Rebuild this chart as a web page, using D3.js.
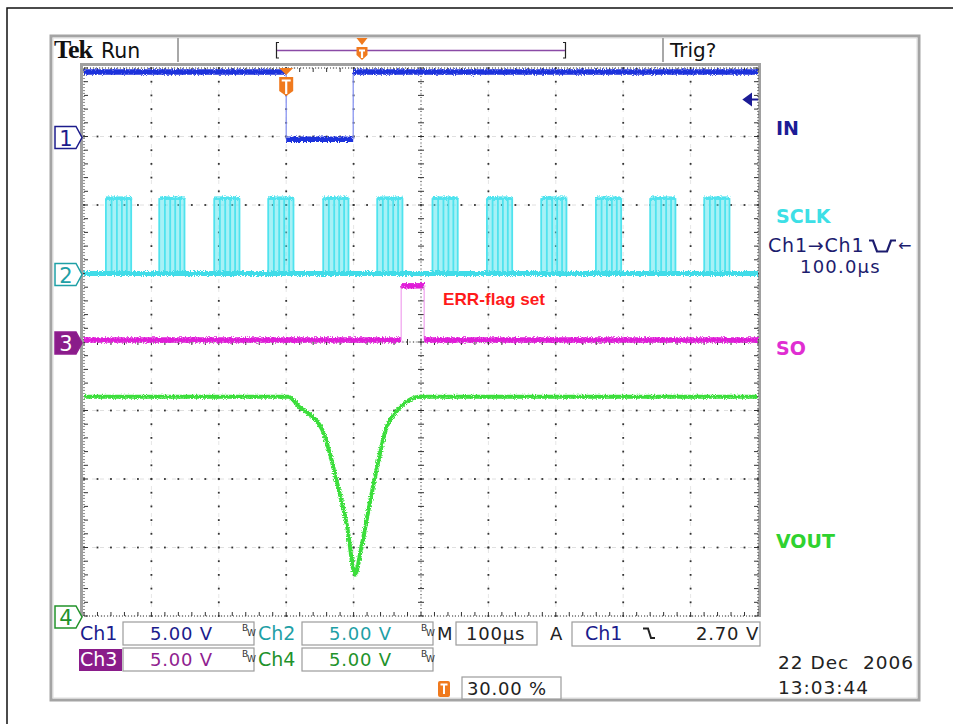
<!DOCTYPE html>
<html>
<head>
<meta charset="utf-8">
<script src="https://d3js.org/d3.v7.min.js"></script>
<style>
  body { margin: 0; background: #fff; }
  text { font-family: "DejaVu Sans", sans-serif; }
</style>
</head>
<body>
<svg id="scope" width="953" height="724"></svg>
<script>
// time axis in µs, relative to the trigger point
const timeDomain = [-300, 700];
const voltsPerDiv = 5;

// channels: ground position (divisions from centre), colours
const channelNames   = ["IN", "SCLK", "SO", "VOUT"];
const channelOffsets = [3, 1, 0, -4];
const channelColors  = ["#1f30dc", "#4fe3ee", "#e01fd8", "#3ade3a"];
const edgeColors     = ["#7f8cf0", "#4fe3ee", "#f0a0ee", "#3ade3a"];
const labelColors    = ["#1c1c96", "#3ddfe6", "#e02ed2", "#2fd22f"];
const labelDivs      = [3.02, 1.74, -0.19, -3.0];

// IN (Ch1)
const inTimes = [-300, 0, 0, 99.4, 99.4, 700];
const inVolts = [4.7, 4.7, -0.2, -0.2, 4.7, 4.7];

// SCLK (Ch2) bursts
const sclkBurstStarts = [-267.5, -188.4, -106.8, -26.7, 54.9, 135, 217, 297.8, 378.3, 459.5, 540, 620.2];
const sclkEdgeOffsets = [0, 8.4, 16.3, 23.7, 31, 37.5];
const sclkHigh = 5.5;
const sclkLow = 0;

// SO (Ch3)
const soTimes = [-300, 170.6, 170.6, 204.7, 204.7, 700];
const soVolts = [0.15, 0.15, 4.1, 4.1, 0.15, 0.15];

// VOUT (Ch4)
const voutTimes = [-300, 3, 20.8, 35.6, 46, 53.4, 75.7, 90.5, 102.4, 109.8, 129.1, 149.9, 164.7, 188.4, 198.8, 700];
const voutVolts = [16.0, 16.0, 15.2, 14.7, 14.2, 13.6, 9.7, 6.5, 3.0, 4.6, 9.5, 13.9, 15.0, 15.9, 16.0, 16.0];

// readouts
const readoutLabels = ["Ch1", "Ch2", "Ch3", "Ch4"];
const readoutScales = ["5.00 V", "5.00 V", "5.00 V", "5.00 V"];
const readoutColors = ["#1c1c8c", "#1fa0a6", "#901e90", "#22922a"];
const timebaseText = "100µs";
const triggerSource = "Ch1";
const triggerLevel = "2.70 V";
const triggerPosition = "30.00 %";
const dateText = "22 Dec  2006";
const clockText = "13:03:44";
const annotation = "ERR-flag set";

const svg = d3.select("#scope");

const x = d3.scaleLinear().domain(timeDomain).range([84, 758]);
const yDiv = d3.scaleLinear().domain([-4, 4]).range([616, 68]);
const yCh = (ch, v) => yDiv(channelOffsets[ch] + v / voltsPerDiv);

const defs = svg.append("defs");
const f = defs.append("filter").attr("id", "noise")
  .attr("filterUnits", "userSpaceOnUse")
  .attr("x", 0).attr("y", 0).attr("width", 953).attr("height", 724);
f.append("feTurbulence").attr("type", "fractalNoise")
  .attr("baseFrequency", "0.9 0.8").attr("numOctaves", 1).attr("seed", 4).attr("result", "t");
f.append("feDisplacementMap").attr("in", "SourceGraphic").attr("in2", "t")
  .attr("scale", 5).attr("xChannelSelector", "R").attr("yChannelSelector", "G");

// outer page frame
svg.append("path").attr("d", "M7,724 V8 H953").attr("fill", "none").attr("stroke", "#111").attr("stroke-width", 1.5);

// instrument bezel
svg.append("rect").attr("x", 51).attr("y", 36).attr("width", 868).attr("height", 664)
  .attr("fill", "none").attr("stroke", "#a4a4a4").attr("stroke-width", 3);
svg.append("rect").attr("x", 53).attr("y", 38).attr("width", 864).attr("height", 660)
  .attr("fill", "none").attr("stroke", "#dcdcdc").attr("stroke-width", 1);
[178, 663].forEach(sx => svg.append("line").attr("x1", sx).attr("x2", sx).attr("y1", 38).attr("y2", 62)
  .attr("stroke", "#a8a8a8").attr("stroke-width", 2));
// plot border (grey)
svg.append("path").attr("d", "M81.5,617 V64.5 H759.5 V617").attr("fill", "none")
  .attr("stroke", "#a0a0a0").attr("stroke-width", 3);

// header
svg.append("text").attr("x", 54).attr("y", 58).text("Tek")
  .style("font-family", "'Liberation Serif', serif").style("font-weight", "bold").style("font-size", "26px")
  .style("letter-spacing", "-1px").attr("fill", "#111");
svg.append("text").attr("x", 101).attr("y", 58).text("Run").style("font-size", "20.5px").attr("fill", "#111");
svg.append("text").attr("x", 670).attr("y", 57).text("Trig?").style("font-size", "20px").attr("fill", "#111");

// record position bar
svg.append("path").attr("d", "M279,42.5 H276.5 V58 H279").attr("fill", "none").attr("stroke", "#222").attr("stroke-width", 1.2);
svg.append("path").attr("d", "M563,42.5 H565.5 V58 H563").attr("fill", "none").attr("stroke", "#222").attr("stroke-width", 1.2);
svg.append("line").attr("x1", 277).attr("x2", 565).attr("y1", 50.5).attr("y2", 50.5).attr("stroke", "#8a4aa6").attr("stroke-width", 1.5);

function triggerFlag(g, cx, top, h, w) {
  g.append("path").attr("d", `M${cx - w},${top} H${cx + w} L${cx},${top + 7} Z`).attr("fill", "#f07a1e");
  g.append("path").attr("d", `M${cx - w},${top + 9} H${cx + w} V${top + 9 + h - 5} L${cx},${top + 9 + h} L${cx - w},${top + 9 + h - 5} Z`)
    .attr("fill", "#f07a1e");
  g.append("path").attr("d", `M${cx - w + 2.5},${top + 12.5} H${cx + w - 2.5} M${cx},${top + 12.5} V${top + 7 + h}`)
    .attr("stroke", "#fff").attr("stroke-width", 2.2);
}
triggerFlag(svg.append("g"), 362, 38, 13, 5.5);

// grid
const grid = svg.append("g");
const majorX = x.ticks(10);
const majorY = yDiv.ticks(8);
const minorX = d3.range(timeDomain[0], timeDomain[1] + 0.01, 20);
const minorY = d3.range(-4, 4.01, 0.2);
const centreT = 200;

majorY.forEach(d => grid.append("line").attr("x1", x(timeDomain[0])).attr("x2", x(timeDomain[1]))
  .attr("y1", yDiv(d)).attr("y2", yDiv(d)).attr("stroke", "#e0e0e0").attr("stroke-dasharray", "4,4"));
majorX.forEach(d => grid.append("line").attr("y1", yDiv(-4)).attr("y2", yDiv(4))
  .attr("x1", x(d)).attr("x2", x(d)).attr("stroke", "#e6e6e6").attr("stroke-dasharray", "4,5"));

majorX.filter(d => d !== centreT && d !== timeDomain[0] && d !== timeDomain[1]).forEach(d => {
  grid.selectAll(null).data(minorY).enter().append("rect")
    .attr("x", x(d) - 0.9).attr("y", v => yDiv(v) - 0.9).attr("width", 1.8).attr("height", 1.8).attr("fill", "#333");
});
majorY.filter(d => d !== 0 && Math.abs(d) !== 4).forEach(d => {
  grid.selectAll(null).data(minorX).enter().append("rect")
    .attr("x", t => x(t) - 0.9).attr("y", yDiv(d) - 0.9).attr("width", 1.8).attr("height", 1.8).attr("fill", "#333");
});
// centre cross with ticks
grid.append("line").attr("x1", x(centreT)).attr("x2", x(centreT)).attr("y1", yDiv(-4)).attr("y2", yDiv(4))
  .attr("stroke", "#333").attr("stroke-dasharray", "1,2.5");
grid.append("line").attr("x1", x(timeDomain[0])).attr("x2", x(timeDomain[1])).attr("y1", yDiv(0)).attr("y2", yDiv(0))
  .attr("stroke", "#333").attr("stroke-dasharray", "1,2.5");
grid.selectAll(null).data(minorY).enter().append("line")
  .attr("x1", x(centreT) - 3).attr("x2", x(centreT) + 3).attr("y1", d => yDiv(d)).attr("y2", d => yDiv(d)).attr("stroke", "#333");
grid.selectAll(null).data(minorX).enter().append("line")
  .attr("y1", yDiv(0) - 3).attr("y2", yDiv(0) + 3).attr("x1", d => x(d)).attr("x2", d => x(d)).attr("stroke", "#333");
// border dotted with inward ticks
grid.append("rect").attr("x", x(timeDomain[0])).attr("y", yDiv(4)).attr("width", x(timeDomain[1]) - x(timeDomain[0]))
  .attr("height", yDiv(-4) - yDiv(4)).attr("fill", "none").attr("stroke", "#333").attr("stroke-dasharray", "1,2");
grid.selectAll(null).data(minorX).enter().append("path")
  .attr("d", d => `M${x(d)},${yDiv(4)} v4 M${x(d)},${yDiv(-4)} v-4`).attr("stroke", "#333");
grid.selectAll(null).data(minorY).enter().append("path")
  .attr("d", d => `M${x(timeDomain[0])},${yDiv(d)} h4 M${x(timeDomain[1])},${yDiv(d)} h-4`).attr("stroke", "#333");

// traces
const traces = svg.append("g");
function drawStepTrace(ch, times, volts, width) {
  const pts = times.map((t, i) => [x(t), yCh(ch, volts[i])]);
  for (let i = 1; i < pts.length; i++) {
    const vertical = times[i] === times[i - 1];
    traces.append("line")
      .attr("x1", pts[i - 1][0]).attr("y1", pts[i - 1][1]).attr("x2", pts[i][0]).attr("y2", pts[i][1])
      .attr("stroke", vertical ? edgeColors[ch] : channelColors[ch])
      .attr("stroke-width", vertical ? 1.2 : width)
      .attr("filter", vertical ? null : "url(#noise)");
  }
}
drawStepTrace(0, inTimes, inVolts, 5.5);

// SCLK
const sclk = traces.append("g");
sclk.selectAll("rect.burst").data(sclkBurstStarts).enter().append("rect")
  .attr("class", "burst")
  .attr("x", d => x(d)).attr("width", d => x(d + sclkEdgeOffsets[sclkEdgeOffsets.length - 1]) - x(d))
  .attr("y", yCh(1, sclkHigh)).attr("height", yCh(1, sclkLow) - yCh(1, sclkHigh))
  .attr("fill", "#4fe3ee").attr("opacity", 0.5);
sclkBurstStarts.forEach(s => {
  sclk.selectAll(null).data(sclkEdgeOffsets).enter().append("line")
    .attr("x1", o => x(s + o)).attr("x2", o => x(s + o))
    .attr("y1", yCh(1, sclkHigh)).attr("y2", yCh(1, sclkLow))
    .attr("stroke", "#4fe3ee").attr("stroke-width", 1.8);
  sclk.append("line").attr("x1", x(s)).attr("x2", x(s + sclkEdgeOffsets[sclkEdgeOffsets.length - 1]))
    .attr("y1", yCh(1, sclkHigh)).attr("y2", yCh(1, sclkHigh))
    .attr("stroke", "#4fe3ee").attr("stroke-width", 3.5).attr("filter", "url(#noise)");
});
sclk.append("line").attr("x1", x(timeDomain[0])).attr("x2", x(timeDomain[1]))
  .attr("y1", yCh(1, sclkLow)).attr("y2", yCh(1, sclkLow))
  .attr("stroke", "#3fdce8").attr("stroke-width", 5).attr("filter", "url(#noise)");

drawStepTrace(2, soTimes, soVolts, 5.5);

const voutLine = d3.line().x(d => x(d[0])).y(d => yCh(3, d[1])).curve(d3.curveMonotoneX);
traces.append("path").attr("d", voutLine(voutTimes.map((t, i) => [t, voutVolts[i]])))
  .attr("fill", "none").attr("stroke", channelColors[3]).attr("stroke-width", 4).attr("filter", "url(#noise)");

// trigger marker on display
triggerFlag(svg.append("g"), x(0), 68, 19, 7);

// trigger level arrow (right)
const ty = yCh(0, 2.7);
svg.append("path").attr("d", `M744,${ty} l7,-5 v10 Z M750,${ty} H758`).attr("fill", "#1c1c96")
  .attr("stroke", "#1c1c96").attr("stroke-width", 2);

// channel markers (left)
channelOffsets.forEach((o, i) => {
  const cy = yDiv(o) + 1;
  const filled = i === 2;
  const g = svg.append("g");
  g.append("path").attr("d", `M55,${cy - 11} H76 L82,${cy} L76,${cy + 11} H55 Z`)
    .attr("fill", filled ? "#8a1c8a" : "#fff").attr("stroke", readoutColors[i]).attr("stroke-width", 1.5);
  g.append("text").attr("x", 66).attr("y", cy + 8).attr("text-anchor", "middle")
    .style("font-size", "21px").attr("fill", filled ? "#fff" : readoutColors[i]).text(i + 1);
});

// channel labels (right)
channelNames.forEach((n, i) => {
  svg.append("text").attr("x", 776).attr("y", yDiv(labelDivs[i]))
    .style("font-size", "19px").style("font-weight", "bold").attr("fill", labelColors[i]).text(n);
});
svg.append("text").attr("x", 768).attr("y", 252).style("font-size", "19px").style("letter-spacing", "0.8px")
  .attr("fill", "#1c1c6e").text("Ch1→Ch1");
svg.append("path").attr("d", "M869,240.5 H873 L877,251.5 H887 L891,240.5 H896").attr("fill", "none")
  .attr("stroke", "#1c1c6e").attr("stroke-width", 2.2);
svg.append("text").attr("x", 898).attr("y", 251).style("font-size", "16px").attr("fill", "#1c1c6e").text("←");
svg.append("text").attr("x", 800).attr("y", 273).style("font-size", "18px").attr("fill", "#1c1c6e")
  .style("letter-spacing", "1.2px").text("100.0µs");

// annotation
svg.append("text").attr("x", 443).attr("y", 305).style("font-family", "'Liberation Sans', sans-serif")
  .style("font-size", "17px").style("font-weight", "bold").attr("fill", "#ff1a1a")
  .attr("textLength", 102).attr("lengthAdjust", "spacingAndGlyphs").text(annotation);

// readouts
const rd = svg.append("g");
function box(x0, y0, w, h) {
  rd.append("rect").attr("x", x0).attr("y", y0).attr("width", w).attr("height", h)
    .attr("fill", "#fff").attr("stroke", "#9c9c9c").attr("stroke-width", 1.2);
}
function bw(x0, y0) {
  rd.append("text").attr("x", x0).attr("y", y0).style("font-size", "9px").attr("fill", "#333").text("B");
  rd.append("text").attr("x", x0 + 5).attr("y", y0 + 5).style("font-size", "9px").attr("fill", "#333").text("W");
}
const rowY = [634, 660];
readoutLabels.forEach((lab, i) => {
  const col = i % 2, row = Math.floor(i / 2);
  const lx = col === 0 ? 80 : 258;
  const bx = col === 0 ? 123 : 302;
  const by = rowY[row] - 12;
  if (i === 2) rd.append("rect").attr("x", lx - 1).attr("y", by + 1).attr("width", 43).attr("height", 22).attr("fill", "#8a1c8a");
  box(bx, by, 131, 23);
  rd.append("text").attr("x", lx).attr("y", rowY[row] + 6).style("font-size", "19px")
    .attr("fill", i === 2 ? "#fff" : readoutColors[i]).text(lab);
  rd.append("text").attr("x", bx + 27).attr("y", rowY[row] + 6).style("font-size", "18px")
    .style("letter-spacing", "0.8px").attr("fill", readoutColors[i]).text(readoutScales[i]);
  bw(bx + 119, rowY[row] - 3);
});
rd.append("text").attr("x", 437).attr("y", 640).style("font-size", "18px").attr("fill", "#222").text("M");
box(456, 622, 81, 23);
rd.append("text").attr("x", 466).attr("y", 640).style("font-size", "18px").style("letter-spacing", "0.8px").attr("fill", "#222").text(timebaseText);
rd.append("text").attr("x", 550).attr("y", 640).style("font-size", "18px").attr("fill", "#222").text("A");
box(572, 622, 188, 24);
rd.append("text").attr("x", 585).attr("y", 640).style("font-size", "19px").attr("fill", "#1c1c8c").text(triggerSource);
rd.append("path").attr("d", "M643,628.5 H648 L651,638 H655").attr("fill", "none").attr("stroke", "#222").attr("stroke-width", 2);
rd.append("text").attr("x", 759).attr("y", 640).attr("text-anchor", "end").style("font-size", "18px")
  .style("letter-spacing", "0.8px").attr("fill", "#222").text(triggerLevel);
// trigger position
rd.append("rect").attr("x", 438).attr("y", 681).attr("width", 12).attr("height", 16).attr("rx", 2).attr("fill", "#f07a1e");
rd.append("path").attr("d", "M440.5,684.5 H447.5 M444,684.5 V694").attr("stroke", "#fff").attr("stroke-width", 2);
box(462, 677, 99, 22);
rd.append("text").attr("x", 467).attr("y", 695).style("font-size", "18px").style("letter-spacing", "0.8px").attr("fill", "#222").text(triggerPosition);
rd.append("text").attr("x", 778).attr("y", 669).style("font-size", "18.5px").style("letter-spacing", "1px")
  .attr("xml:space", "preserve").attr("fill", "#222").text(dateText);
rd.append("text").attr("x", 778).attr("y", 694).style("font-size", "18.5px").style("letter-spacing", "1px")
  .attr("fill", "#222").text(clockText);
</script>
</body>
</html>
